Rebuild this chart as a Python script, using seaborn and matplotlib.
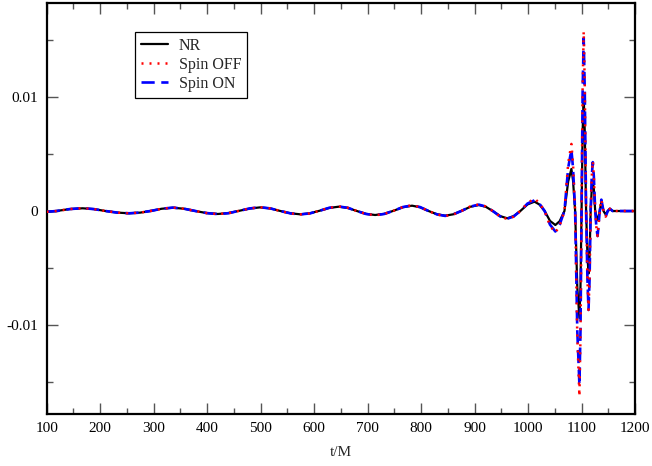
import matplotlib
matplotlib.use("Agg")
import matplotlib.pyplot as plt
import seaborn as sns
import pandas as pd
from matplotlib.ticker import MultipleLocator, FixedLocator, FixedFormatter

# Waveform samples (time t/M and strain) for the three models
t_nr = [100, 118, 143, 167, 188, 210, 232, 254, 275, 295, 315, 336, 357, 378, 399, 420,
        440, 460, 480, 499, 518, 537, 556, 574, 592, 610, 628, 646, 663, 680, 697, 714,
        731, 749, 766, 783, 798, 814, 830, 845, 860, 876, 892, 908, 921, 934, 948, 961,
        973, 986, 999, 1012, 1021, 1031, 1041, 1051, 1059, 1068, 1075, 1081, 1084, 1088,
        1092, 1096, 1098, 1100, 1102, 1104, 1106, 1108.5, 1111, 1113, 1115, 1117, 1119,
        1121, 1123, 1125.5, 1128, 1130, 1134, 1137, 1141, 1145, 1149, 1153, 1158, 1200]
h_nr = [-0.00007, 0.0, 0.00017, 0.00024, 0.00017, 0.0, -0.00014, -0.0002, -0.00014, 0.00001,
        0.0002, 0.00029, 0.0002, 0.0, -0.00018, -0.00026, -0.00018, 0.00002, 0.00022, 0.00032,
        0.00023, 0.0, -0.0002, -0.00029, -0.0002, 0.00002, 0.00027, 0.00038, 0.00027, 0.0,
        -0.00025, -0.00035, -0.00025, 0.00003, 0.00033, 0.00047, 0.00033, 0.0, -0.00029,
        -0.00041, -0.00029, 0.00002, 0.00037, 0.00053, 0.00037, 0.0, -0.00045, -0.00064,
        -0.00045, 0.00002, 0.00058, 0.00082, 0.00058, 0.0, -0.00087, -0.00123, -0.0009, 0.0,
        0.0026, 0.0037, 0.0027, 0.0, -0.0067, -0.0094, -0.0066, 0.0, 0.007, 0.01005, 0.007,
        0.0, -0.0039, -0.0055, -0.0039, 0.0, 0.0019, 0.0027, 0.0019, 0.0, -0.0006, -0.0008,
        0.0, 0.0008, 0.0, -0.0003, 0.0, 0.0002, 0.0, 0.0]

t_off = t_nr
h_off = [-0.00007, 0.0, 0.00017, 0.00025, 0.00017, 0.0, -0.00014, -0.0002, -0.00014, 0.00001,
         0.0002, 0.0003, 0.0002, 0.0, -0.00018, -0.00027, -0.00019, 0.00002, 0.00023, 0.00033,
         0.00023, 0.0, -0.00021, -0.0003, -0.00021, 0.00002, 0.00028, 0.0004, 0.00028, 0.0,
         -0.00026, -0.00037, -0.00026, 0.00003, 0.00035, 0.0005, 0.00035, 0.0, -0.00031,
         -0.00044, -0.00031, 0.00002, 0.0004, 0.00058, 0.0004, 0.0, -0.00049, -0.0007,
         -0.0005, 0.00002, 0.0007, 0.0011, 0.0007, 0.0, -0.0013, -0.0019, -0.0013, 0.0,
         0.0042, 0.0059, 0.0042, 0.0, -0.011, -0.0163, -0.011, 0.0, 0.011, 0.0158, 0.011,
         0.0, -0.006, -0.0087, -0.006, 0.0, 0.003, 0.0044, 0.003, 0.0, -0.0016, -0.0022,
         0.0, 0.001, 0.0, -0.0005, 0.0, 0.0002, 0.0, 0.0]

t_on = t_nr
h_on = [-0.00007, 0.0, 0.00017, 0.00025, 0.00017, 0.0, -0.00014, -0.0002, -0.00014, 0.00001,
        0.0002, 0.0003, 0.0002, 0.0, -0.00018, -0.00027, -0.00019, 0.00002, 0.00023, 0.00033,
        0.00023, 0.0, -0.00021, -0.0003, -0.00021, 0.00002, 0.00028, 0.0004, 0.00028, 0.0,
        -0.00026, -0.00037, -0.00026, 0.00003, 0.00035, 0.00049, 0.00035, 0.0, -0.0003,
        -0.00043, -0.0003, 0.00002, 0.00039, 0.00056, 0.00039, 0.0, -0.00048, -0.00068,
        -0.00048, 0.00002, 0.00066, 0.00094, 0.00066, 0.0, -0.0012, -0.0018, -0.0012, 0.0,
        0.0038, 0.0054, 0.0038, 0.0, -0.0105, -0.0153, -0.0105, 0.0, 0.0105, 0.0152, 0.0105,
        0.0, -0.006, -0.0087, -0.006, 0.0, 0.003, 0.0043, 0.003, 0.0, -0.0016, -0.0022,
        0.0, 0.001, 0.0, -0.0005, 0.0, 0.0002, 0.0, 0.0]

x_ticks = [100, 200, 300, 400, 500, 600, 700, 800, 900, 1000, 1100, 1200]
y_ticks = [-0.01, 0.0, 0.01]
y_tick_labels = ["-0.01", "0", "0.01"]

sns.set_style("ticks")
plt.rcParams["font.family"] = ["Liberation Serif", "DejaVu Serif"]

fig = plt.figure(figsize=(6.52, 4.66), dpi=100)
ax = fig.add_axes([0.0716, 0.1116, 0.9024, 0.8814])

df_nr = pd.DataFrame({"t": t_nr, "h": h_nr})
df_off = pd.DataFrame({"t": t_off, "h": h_off})
df_on = pd.DataFrame({"t": t_on, "h": h_on})

sns.lineplot(data=df_nr, x="t", y="h", ax=ax, color="black", lw=1.6,
             label="NR", estimator=None, sort=False, zorder=2)
sns.lineplot(data=df_off, x="t", y="h", ax=ax, color="#ff0000", lw=1.8,
             linestyle=(0, (0.8, 2.4)), label="Spin OFF", estimator=None,
             sort=False, zorder=4)
sns.lineplot(data=df_on, x="t", y="h", ax=ax, color="#0000ff", lw=1.9,
             linestyle=(0, (5, 2.5)), label="Spin ON", estimator=None,
             sort=False, zorder=3)

ax.set_xlim(100, 1200)
ax.set_ylim(-0.01785, 0.01827)
ax.xaxis.set_major_locator(FixedLocator(x_ticks))
ax.xaxis.set_minor_locator(MultipleLocator(50))
ax.yaxis.set_major_locator(FixedLocator(y_ticks))
ax.yaxis.set_major_formatter(FixedFormatter(y_tick_labels))
ax.yaxis.set_minor_locator(MultipleLocator(0.005))

ax.tick_params(which="both", direction="in", top=True, right=True,
               labelsize=11, colors="#555555", labelcolor="black")
ax.tick_params(which="major", length=8, width=1.0, pad=6)
ax.tick_params(which="minor", length=4, width=1.0)
for s in ax.spines.values():
    s.set_linewidth(1.6)
    s.set_color("black")

ax.set_xlabel("t/M", fontsize=11, labelpad=8)
ax.set_ylabel("")

leg = ax.legend(loc="upper left", bbox_to_anchor=(0.150, 0.930), borderaxespad=0,
                fontsize=11.5, frameon=True, fancybox=False, shadow=False,
                handlelength=1.7, handletextpad=0.7, borderpad=0.35,
                labelspacing=0.2)
leg.get_frame().set_edgecolor("black")
leg.get_frame().set_linewidth(0.9)
leg.get_frame().set_alpha(1)

fig.savefig("out.png", dpi=100)
